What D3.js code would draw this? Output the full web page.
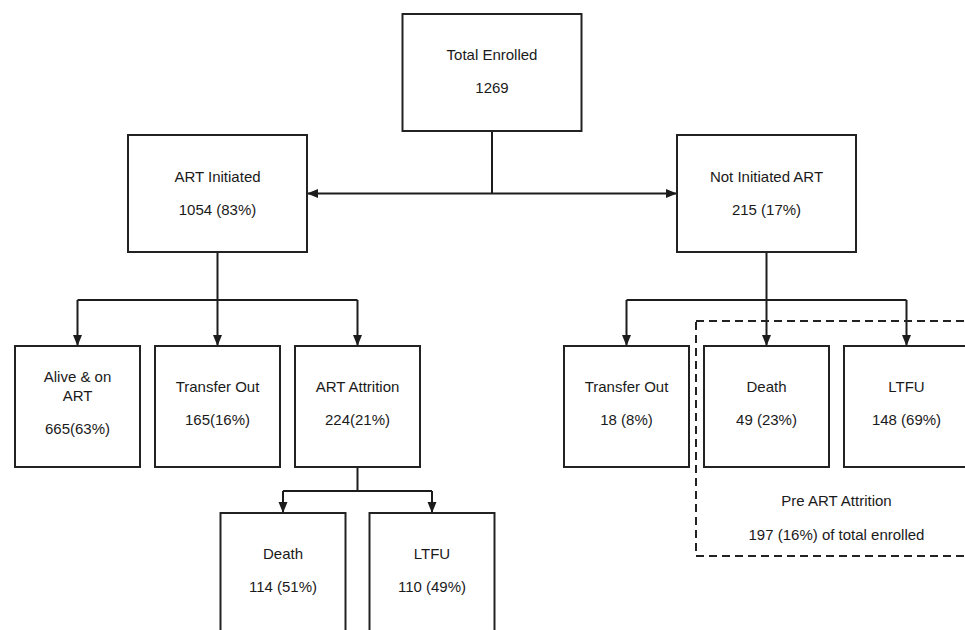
<!DOCTYPE html>
<html lang="en">
<head>
  <meta charset="utf-8">
  <title>ART Cohort Flow</title>
  <script src="https://d3js.org/d3.v7.min.js"></script>
  <style>
    body {
      margin: 0;
      padding: 0;
      background: #fff;
      overflow: hidden;
    }
    svg {
      display: block;
    }
    text {
      font-family: "Liberation Sans", Arial, Helvetica, sans-serif;
      font-size: 15px;
      fill: #1a1a1a;
      text-anchor: middle;
    }
    .box {
      fill: #fff;
      stroke: #222;
      stroke-width: 2;
    }
    .link {
      fill: none;
      stroke: #1c1c1c;
      stroke-width: 2;
    }
    .group-box {
      fill: none;
      stroke: #222;
      stroke-width: 2;
      stroke-dasharray: 8 5;
    }
  </style>
</head>
<body>
  <div id="chart"></div>
  <script>
    // Flow nodes
    const nodeIds = ["total", "artInit", "notInit", "alive", "transferOut", "artAttr",
                     "ntTransfer", "ntDeath", "ntLtfu", "attrDeath", "attrLtfu"];
    const parentIds = [null, "total", "total", "artInit", "artInit", "artInit",
                       "notInit", "notInit", "notInit", "artAttr", "artAttr"];
    const nodeLabels = [
      ["Total Enrolled"], ["ART Initiated"], ["Not Initiated ART"],
      ["Alive & on", "ART"], ["Transfer Out"], ["ART Attrition"],
      ["Transfer Out"], ["Death"], ["LTFU"],
      ["Death"], ["LTFU"]
    ];
    const nodeValues = ["1269", "1054 (83%)", "215 (17%)",
                        "665(63%)", "165(16%)", "224(21%)",
                        "18 (8%)", "49 (23%)", "148 (69%)",
                        "114 (51%)", "110 (49%)"];

    // Dashed grouping
    const groupMembers = ["ntDeath", "ntLtfu"];
    const groupLines = ["Pre ART Attrition", "197 (16%) of total enrolled"];

    // Layout
    const width = 965, height = 630;
    const rootX = 492;
    const siblingGap = [0, 549, 140, 149];
    const boxW = [179, 179, 125, 125];
    const boxH = [117, 117, 121, 121];
    const rowTop = [14, 135, 346, 513];
    const branchDrop = [0, 0, 48, 24];
    const textOffset = [57, 58, 57, 57];   // text block centre below box top
    const labelGap = 33, lineGap = 19;

    const svg = d3.select("#chart").append("svg")
      .attr("width", width)
      .attr("height", height);

    svg.append("defs").append("marker")
      .attr("id", "arrow")
      .attr("markerUnits", "userSpaceOnUse")
      .attr("viewBox", "0 0 11 10")
      .attr("refX", 11)
      .attr("refY", 5)
      .attr("markerWidth", 11)
      .attr("markerHeight", 10)
      .attr("orient", "auto-start-reverse")
      .append("path")
      .attr("d", "M0,0.5L11,5L0,9.5Z")
      .attr("fill", "#1c1c1c");

    const table = nodeIds.map((id, i) => ({
      id, parent: parentIds[i], label: nodeLabels[i], value: nodeValues[i]
    }));
    const root = d3.stratify().id(d => d.id).parentId(d => d.parent)(table);

    // place nodes: children centred under their parent
    root.x = rootX;
    root.each(n => {
      if (!n.children) return;
      const k = n.children.length;
      const gap = siblingGap[n.depth + 1];
      n.children.forEach((c, i) => { c.x = n.x + (i - (k - 1) / 2) * gap; });
    });
    root.each(n => {
      n.w = boxW[n.depth];
      n.h = boxH[n.depth];
      n.top = rowTop[n.depth];
      n.bottom = n.top + n.h;
    });

    const links = svg.append("g");

    root.each(n => {
      if (!n.children) return;
      const kids = n.children;
      if (n.depth === 0) {
        const midY = kids[0].top + kids[0].h / 2;
        links.append("path").attr("class", "link")
          .attr("d", `M${n.x},${n.bottom}V${midY}`);
        const a = kids[0], b = kids[kids.length - 1];
        links.append("path").attr("class", "link")
          .attr("d", `M${a.x + a.w / 2},${midY}H${b.x - b.w / 2}`)
          .attr("marker-start", "url(#arrow)")
          .attr("marker-end", "url(#arrow)");
      } else {
        const by = n.bottom + branchDrop[n.depth + 1];
        links.append("path").attr("class", "link")
          .attr("d", `M${n.x},${n.bottom}V${by}`);
        links.append("path").attr("class", "link")
          .attr("d", `M${kids[0].x},${by}H${kids[kids.length - 1].x}`);
        kids.forEach(c => {
          links.append("path").attr("class", "link")
            .attr("d", `M${c.x},${by}V${c.top}`)
            .attr("marker-end", "url(#arrow)");
        });
      }
    });

    // dashed group around pre-ART attrition
    const members = root.descendants().filter(n => groupMembers.includes(n.data.id));
    const gx0 = d3.min(members, n => n.x - n.w / 2) - 8;
    const gx1 = d3.max(members, n => n.x + n.w / 2) + 10;
    const gy0 = members[0].top - 25;
    const gy1 = members[0].bottom + 89;
    const gcx = d3.mean(members, n => n.x);

    svg.append("rect").attr("class", "group-box")
      .attr("x", gx0).attr("y", gy0)
      .attr("width", gx1 - gx0).attr("height", gy1 - gy0);

    svg.append("g").selectAll("text")
      .data(groupLines)
      .join("text")
      .attr("x", gcx)
      .attr("y", (d, i) => members[0].bottom + 34 + i * 34)
      .attr("dy", "0.35em")
      .text(d => d);

    const nodes = svg.append("g").selectAll("g")
      .data(root.descendants())
      .join("g");

    nodes.append("rect").attr("class", "box")
      .attr("x", d => d.x - d.w / 2)
      .attr("y", d => d.top)
      .attr("width", d => d.w)
      .attr("height", d => d.h);

    nodes.each(function(d) {
      const g = d3.select(this);
      const lines = d.data.label;
      const blockH = (lines.length - 1) * lineGap + labelGap;
      const y0 = d.top + textOffset[d.depth] - blockH / 2;
      lines.forEach((t, i) => {
        g.append("text")
          .attr("x", d.x)
          .attr("y", y0 + i * lineGap)
          .attr("dy", "0.35em")
          .text(t);
      });
      g.append("text")
        .attr("x", d.x)
        .attr("y", y0 + blockH)
        .attr("dy", "0.35em")
        .text(d.data.value);
    });
  </script>
</body>
</html>
